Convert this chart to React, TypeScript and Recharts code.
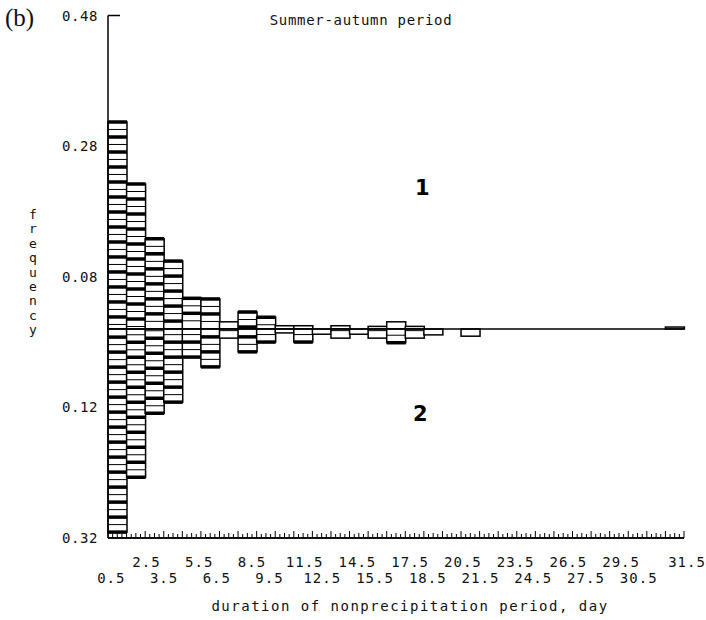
import React from "react";
import { BarChart, Bar, XAxis, YAxis, ReferenceLine } from "recharts";

// duration classes (days) and frequencies of the two samples
const days = [
  "0.5", "1.5", "2.5", "3.5", "4.5", "5.5", "6.5", "7.5", "8.5", "9.5", "10.5",
  "11.5", "12.5", "13.5", "14.5", "15.5", "16.5", "17.5", "18.5", "19.5", "20.5",
  "21.5", "22.5", "23.5", "24.5", "25.5", "26.5", "27.5", "28.5", "29.5", "30.5",
];
// series 1, drawn upward
const series1 = [
  0.317, 0.222, 0.138, 0.104, 0.047, 0.046, 0.011, 0.026, 0.018, 0.005, 0.005,
  0, 0.005, 0, 0.004, 0.011, 0.004, 0, 0, 0, 0,
  0, 0, 0, 0, 0, 0, 0, 0, 0, 0.003,
];
// series 2, drawn downward
const series2 = [
  0.311, 0.227, 0.129, 0.112, 0.043, 0.058, 0.014, 0.035, 0.02, 0.006, 0.02,
  0.008, 0.014, 0.008, 0.014, 0.021, 0.014, 0.009, 0, 0.011, 0,
  0, 0, 0, 0, 0, 0, 0, 0, 0, 0,
];

const yTicks = [0.48, 0.28, 0.08, -0.12, -0.32];
const lastLabel = "31.5";

const rows = days.map((d, i) => ({ day: d, up: series1[i], down: -series2[i] }));

const MONO = '"DejaVu Sans Mono", monospace';
const STEP = 7.5; // px height of one box in the stacks
const AXIS_Y = 538; // bottom edge of the plot

// bar drawn as a stack of boxes, thick and thin separators alternating
const BoxStack = (props: any) => {
  const { x, y, width, height } = props;
  if (!height) return null;
  const top = Math.min(y, y + height);
  const h = Math.abs(height);
  const upward = props.field === "up";
  const lines = [];
  for (let k = h >= STEP * 1.5 ? 0 : 1; k * STEP < h - 1; k++) {
    const yy = upward ? top + k * STEP : top + h - k * STEP;
    lines.push(
      <line key={k} x1={x} x2={x + width} y1={yy} y2={yy} stroke="#000"
        strokeWidth={k % 2 === 0 ? 3.5 : 1} />
    );
  }
  return (
    <g>
      <rect x={x} y={top} width={width} height={h} fill="#fff" stroke="#000" strokeWidth={1.5} />
      {lines}
    </g>
  );
};

const YTick = ({ x, y, payload }: any) => (
  <g>
    <text x={x} y={y} dy="0.36em" textAnchor="end" fontFamily={MONO} fontSize={14}
      letterSpacing={0.6} fill="#111">
      {Math.abs(payload.value).toFixed(2)}
    </text>
    {payload.value === 0.48 && (
      <line x1={x + 10} x2={x + 22} y1={y} y2={y} stroke="#000" strokeWidth={1.5} />
    )}
  </g>
);

// small marks along the axis plus the two staggered rows of labels
const DayTick = ({ x, payload, index }: any) => {
  const i = payload.index ?? index;
  const half = payload.offset ?? 576 / 31 / 2;
  const marks = [];
  for (let k = 0; k < 4; k++) {
    const xx = x - half + (k * half) / 2;
    marks.push(
      <line key={k} x1={xx} x2={xx} y1={AXIS_Y} y2={AXIS_Y - (k === 0 ? 7 : k === 2 ? 5 : 4)}
        stroke="#000" strokeWidth={1} />
    );
  }
  const last = i === days.length - 1;
  if (last) marks.push(
    <line key="e" x1={x + half} x2={x + half} y1={AXIS_Y} y2={AXIS_Y - 7} stroke="#000" strokeWidth={1} />
  );
  const drift = -6 - i; // the printed labels sit a little left of the bins
  const txt = { fontFamily: MONO, fontSize: 14, letterSpacing: 1, fill: "#111", textAnchor: "middle" as const };
  return (
    <g>
      {marks}
      {i % 3 === 2 && <text x={x + drift} y={AXIS_Y + 29} {...txt}>{payload.value}</text>}
      {i % 3 === 0 && <text x={x + drift} y={AXIS_Y + 45} {...txt}>{payload.value}</text>}
      {last && <text x={x + half + 3} y={AXIS_Y + 29} {...txt}>{lastLabel}</text>}
    </g>
  );
};

export default function App() {
  return (
    <div style={{ position: "absolute", left: 0, top: 0, width: 706, height: 620, background: "#fff" }}>
      <BarChart width={706} height={620} data={rows} stackOffset="sign" barCategoryGap={0}
        margin={{ top: 15.5, right: 22, bottom: 0, left: 0 }}>
        <XAxis dataKey="day" interval={0} height={82} tickSize={0} tickMargin={0}
          tickLine={false} tick={<DayTick />} axisLine={{ stroke: "#000", strokeWidth: 1.5 }} />
        <YAxis type="number" domain={[-0.32, 0.48]} ticks={yTicks} interval={0}
          width={108} tickLine={false} tickSize={6} tickMargin={4} tick={<YTick />}
          axisLine={{ stroke: "#000", strokeWidth: 1.5 }} allowDataOverflow />
        <Bar dataKey="up" stackId="s" isAnimationActive={false}
          shape={(p: any) => <BoxStack {...p} field="up" />} />
        <Bar dataKey="down" stackId="s" isAnimationActive={false}
          shape={(p: any) => <BoxStack {...p} field="down" />} />
        <ReferenceLine y={0} stroke="#000" strokeWidth={1.5} />
        <ReferenceLine y={-0.32} stroke="#000" strokeWidth={1.5} />
      </BarChart>

      <div style={{ position: "absolute", left: 5, top: 4, fontFamily: '"Liberation Serif", serif', fontSize: 25, color: "#111" }}>
        (b)
      </div>
      <div style={{ position: "absolute", left: 0, width: 722, top: 12, textAlign: "center", fontFamily: MONO, fontSize: 14, letterSpacing: 0.7, color: "#111", whiteSpace: "pre" }}>
        Summer-autumn period
      </div>
      <div style={{ position: "absolute", left: 24, top: 208, width: 18, textAlign: "center", fontFamily: MONO, fontSize: 13, lineHeight: "14.4px", color: "#111" }}>
        {"frequency".split("").map((c, i) => (
          <div key={i}>{c}</div>
        ))}
      </div>
      <div style={{ position: "absolute", left: 0, width: 820, top: 598, textAlign: "center", fontFamily: MONO, fontSize: 14, letterSpacing: 1.5, color: "#111", whiteSpace: "pre" }}>
        duration of nonprecipitation period, day
      </div>
      <div style={{ position: "absolute", left: 415, top: 176, fontFamily: '"DejaVu Sans", sans-serif', fontWeight: "bold", fontSize: 21, color: "#000" }}>
        1
      </div>
      <div style={{ position: "absolute", left: 413, top: 402, fontFamily: '"DejaVu Sans", sans-serif', fontWeight: "bold", fontSize: 21, color: "#000" }}>
        2
      </div>
    </div>
  );
}
